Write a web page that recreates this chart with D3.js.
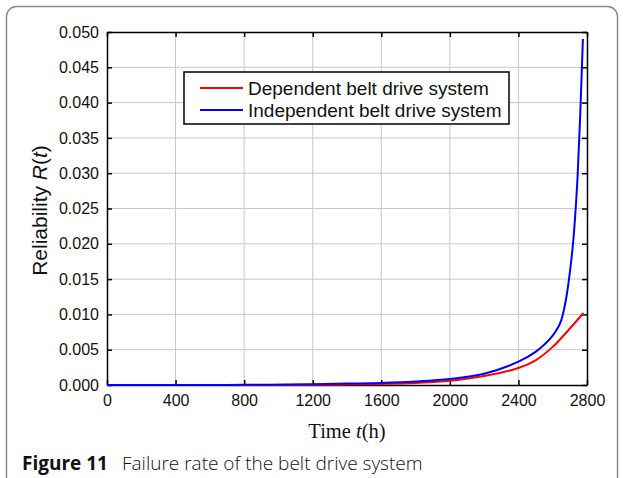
<!DOCTYPE html>
<html>
<head>
<meta charset="utf-8">
<script src="https://cdn.jsdelivr.net/npm/d3@7"></script>
<style>
  body { margin: 0; background: #fff; }
  svg { display: block; }
</style>
</head>
<body>
<svg id="chart" width="624" height="478"></svg>
<script>
// values
const xTicks = [0, 400, 800, 1200, 1600, 2000, 2400, 2800];
const yTicks = [0, 0.005, 0.01, 0.015, 0.02, 0.025, 0.03, 0.035, 0.04, 0.045, 0.05];

const depTime = [0, 400, 800, 1200, 1400, 1600, 1800, 2000, 2200, 2400, 2500, 2600, 2700, 2779];
const depRate = [0, 0, 0, 0.00003, 0.00006, 0.00015, 0.0003, 0.0006, 0.00127, 0.0024, 0.0035, 0.0054, 0.008, 0.0102];

const indTime = [0, 400, 800, 1200, 1400, 1600, 1800, 2000, 2200, 2400, 2500, 2550, 2600, 2630, 2650, 2665, 2680, 2695, 2710, 2722, 2734, 2745, 2760, 2776];
const indRate = [0, 0, 0.00002, 0.0001, 0.0002, 0.0003, 0.0005, 0.00085, 0.0016, 0.0033, 0.0047, 0.0057, 0.007, 0.0081, 0.0092, 0.0106, 0.0125, 0.015, 0.018, 0.021, 0.025, 0.0295, 0.038, 0.049];

const seriesNames = ["Dependent belt drive system", "Independent belt drive system"];
const seriesColors = ["#ff0000", "#0000ff"];

const svg = d3.select("#chart");
const plotLeft = 107, plotRight = 587, plotTop = 32, plotBottom = 385;

// figure frame
svg.append("rect")
    .attr("x", 6.5).attr("y", 6.5)
    .attr("width", 611).attr("height", 540)
    .attr("rx", 10)
    .style("fill", "none")
    .style("stroke", "#8c8c8c")
    .style("stroke-width", 1.5);

const x = d3.scaleLinear().domain([0, 2800]).range([plotLeft, plotRight]);
const y = d3.scaleLinear().domain([0, 0.05]).range([plotBottom, plotTop]);

// grid
svg.append("g").selectAll("line")
    .data(xTicks.slice(1, -1))
    .enter().append("line")
    .attr("x1", d => x(d)).attr("x2", d => x(d))
    .attr("y1", plotTop).attr("y2", plotBottom)
    .style("stroke", "#c8c8c8").style("stroke-width", 1);
svg.append("g").selectAll("line")
    .data(yTicks.slice(1, -1))
    .enter().append("line")
    .attr("x1", plotLeft).attr("x2", plotRight)
    .attr("y1", d => y(d)).attr("y2", d => y(d))
    .style("stroke", "#c8c8c8").style("stroke-width", 1);

// axes, ticks pointing inward on all sides
function styleAxis(g) {
    g.selectAll("path").style("stroke", "#000").style("stroke-width", 1.5);
    g.selectAll("line").style("stroke", "#000").style("stroke-width", 1.5);
    g.selectAll("text").style("font-family", "Liberation Sans, Arial, sans-serif")
        .style("font-size", "16px").style("fill", "#111");
}

svg.append("g").attr("transform", `translate(0,${plotBottom})`)
    .call(d3.axisBottom(x).tickValues(xTicks).tickSizeInner(-5).tickSizeOuter(0).tickPadding(10)
        .tickFormat(d3.format("d")))
    .call(styleAxis);
svg.append("g").attr("transform", `translate(0,${plotTop})`)
    .call(d3.axisTop(x).tickValues(xTicks).tickSizeInner(-5).tickSizeOuter(0).tickFormat(""))
    .call(styleAxis);
svg.append("g").attr("transform", `translate(${plotLeft},0)`)
    .call(d3.axisLeft(y).tickValues(yTicks).tickSizeInner(-5).tickSizeOuter(0).tickPadding(8)
        .tickFormat(d3.format(".3f")))
    .call(styleAxis);
svg.append("g").attr("transform", `translate(${plotRight},0)`)
    .call(d3.axisRight(y).tickValues(yTicks).tickSizeInner(-5).tickSizeOuter(0).tickFormat(""))
    .call(styleAxis);

// curves
const line = d3.line()
    .x(d => x(d[0]))
    .y(d => y(d[1]))
    .curve(d3.curveCatmullRom.alpha(0.5));

const series = [d3.zip(depTime, depRate), d3.zip(indTime, indRate)];
svg.append("g").selectAll("path")
    .data(series)
    .enter().append("path")
    .attr("d", line)
    .style("fill", "none")
    .style("stroke", (d, i) => seriesColors[i])
    .style("stroke-width", 2);

// legend
const legend = svg.append("g");
legend.append("rect")
    .attr("x", 184).attr("y", 72)
    .attr("width", 325).attr("height", 52)
    .style("fill", "#fff").style("stroke", "#000").style("stroke-width", 1.5);
seriesNames.forEach((name, i) => {
    const ly = 88 + i * 22;
    legend.append("line")
        .attr("x1", 200).attr("x2", 243).attr("y1", ly).attr("y2", ly)
        .style("stroke", seriesColors[i]).style("stroke-width", 2);
    legend.append("text")
        .attr("x", 248).attr("y", ly + 7)
        .style("font-family", "Liberation Sans, Arial, sans-serif")
        .style("font-size", "19px").style("fill", "#111")
        .text(name);
});

// axis titles
const yTitle = svg.append("text")
    .attr("transform", `translate(47,${(plotTop + plotBottom) / 2 + 2}) rotate(-90)`)
    .attr("text-anchor", "middle")
    .style("font-family", "Liberation Sans, Arial, sans-serif")
    .style("font-size", "21px").style("fill", "#111");
yTitle.append("tspan").text("Reliability ");
yTitle.append("tspan").style("font-style", "italic").text("R");
yTitle.append("tspan").text("(");
yTitle.append("tspan").style("font-style", "italic").text("t");
yTitle.append("tspan").text(")");

const xTitle = svg.append("text")
    .attr("x", (plotLeft + plotRight) / 2).attr("y", 438)
    .attr("text-anchor", "middle")
    .style("font-family", "Liberation Serif, Times New Roman, serif")
    .style("font-size", "20.5px").style("fill", "#111");
xTitle.append("tspan").text("Time ");
xTitle.append("tspan").style("font-style", "italic").text("t");
xTitle.append("tspan").text("(h)");

// caption
const cap = svg.append("text")
    .attr("x", 22).attr("y", 470)
    .style("font-family", "Open Sans, Noto Sans, sans-serif")
    .style("font-size", "19px").style("fill", "#111");
cap.append("tspan").style("font-weight", "bold").text("Figure 11");
cap.append("tspan").attr("x", 122).style("font-weight", "300").text("Failure rate of the belt drive system");
</script>
</body>
</html>
